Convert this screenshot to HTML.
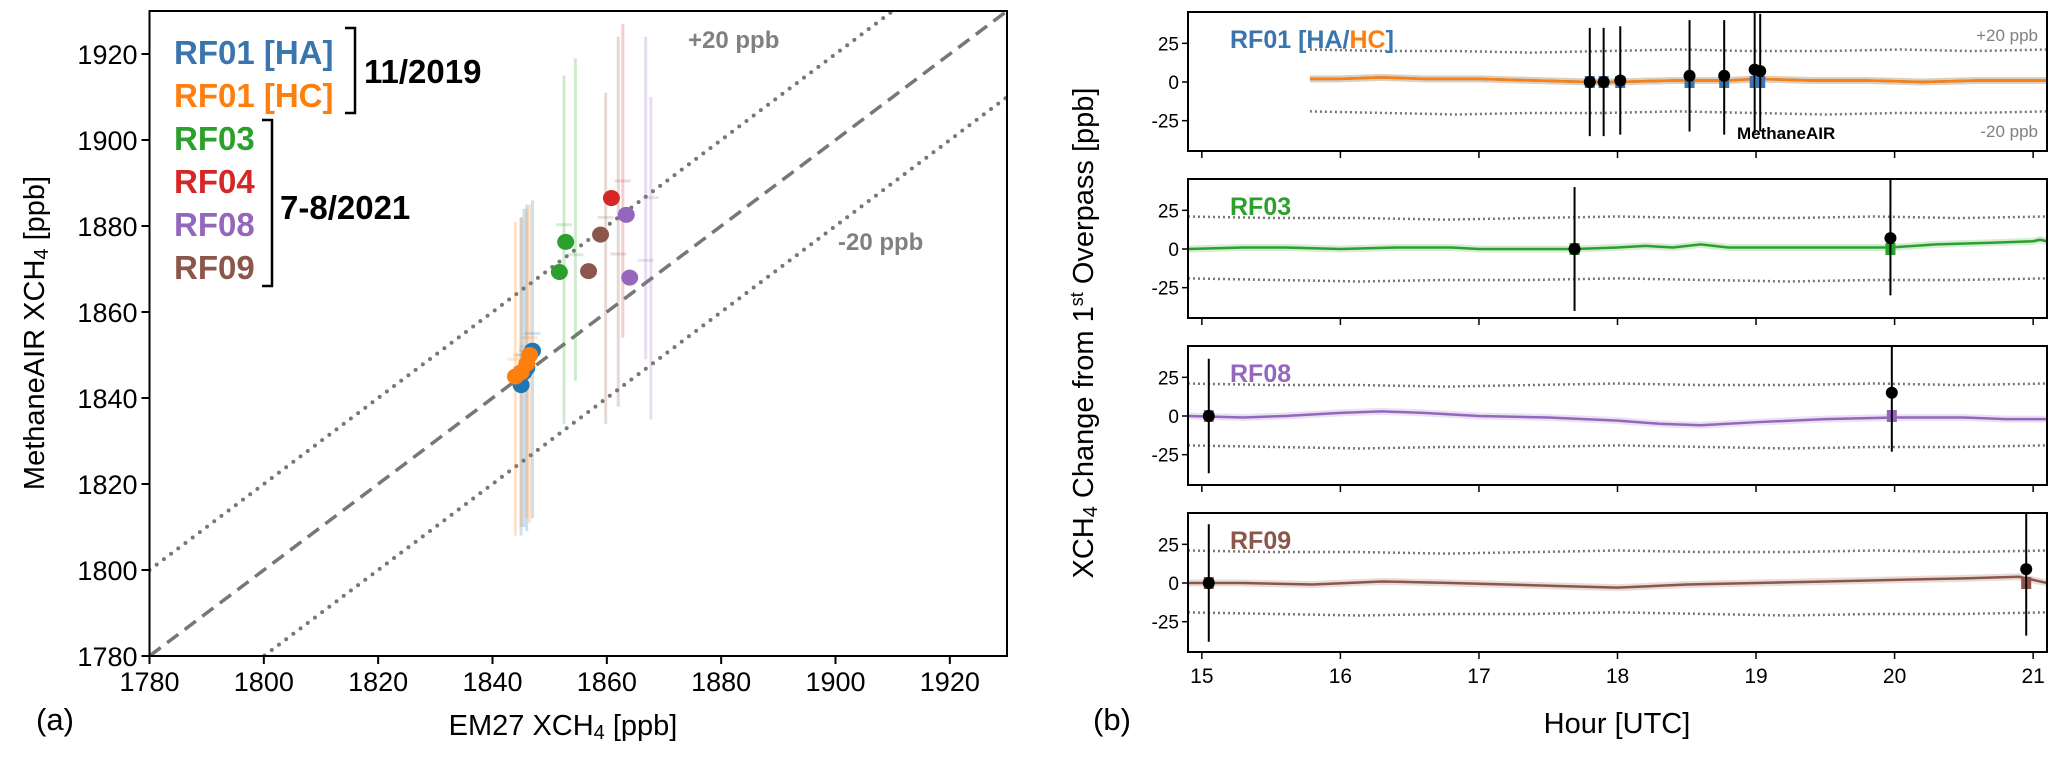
<!DOCTYPE html>
<html><head><meta charset="utf-8"><style>
html,body{margin:0;padding:0;background:#fff;}
svg{display:block;font-family:"Liberation Sans",Arial,sans-serif;}
</style></head><body>
<svg id="fig" width="2067" height="757" viewBox="0 0 2067 757"></svg>
<script>
// ---------- Panel (a) data ----------
const scatterSeries = ['RF01 [HA]','RF01 [HC]','RF03','RF04','RF08','RF09'];
const scatterColors = ['#1f77b4','#ff7f0e','#2ca02c','#d62728','#9467bd','#8c564b'];
const em27HA = [1845, 1846, 1847, 1845.5];
const airHA = [1843, 1847, 1851, 1846];
const em27HC = [1844, 1845, 1846, 1846.5];
const airHC = [1845, 1846, 1848, 1850];
const em27RF03 = [1852.8, 1851.7];
const airRF03 = [1876.3, 1869.3];
const em27RF04 = [1860.8];
const airRF04 = [1886.5];
const em27RF08 = [1863.4, 1864];
const airRF08 = [1882.6, 1868];
const em27RF09 = [1858.9, 1856.8];
const airRF09 = [1878, 1869.5];
const errLowHA = [1808, 1809, 1812, 1810];
const errHighHA = [1882, 1885, 1886, 1884];
const errLowHC = [1808, 1810, 1812, 1811];
const errHighHC = [1881, 1882, 1884, 1885];
const errLowRF03 = [1834, 1844];
const errHighRF03 = [1915, 1919];
const errLowRF04 = [1854];
const errHighRF04 = [1927];
const errLowRF08 = [1835, 1849];
const errHighRF08 = [1910, 1924];
const errLowRF09 = [1834, 1838];
const errHighRF09 = [1911, 1924];
const errX = { 'RF03':[1852.5,1854.5], 'RF04':[1862.8], 'RF08':[1867.7,1866.8], 'RF09':[1859.8,1862] };
const axTicks = [1780,1800,1820,1840,1860,1880,1900,1920];

// ---------- Panel (b) data ----------
const hourTicks = [15,16,17,18,19,20,21];
const bTicks = [25,0,-25];
const rf01Hours = [15.78,16,16.3,16.6,17,17.4,17.8,18,18.4,18.8,19,19.4,19.8,20.2,20.6,21,21.1];
const rf01HA = [2,2,3,2,2,1,0,0,1,1,2,1,1,0,1,1,1];
const rf01HC = [2,2,3,2,2,1,0,0,1,1,2,1,1,0,1,1,1];
const rf01PtsH = [17.8,17.9,18.02,18.52,18.77,18.99,19.03];
const rf01PtsV = [0,0,1,4,4,8,7];
const rf01ErrLo = [-35,-35,-34,-32,-34,-33,-32];
const rf01ErrHi = [35,35,36,40,40,45,44];
const rf03Hours = [14.9,15.3,15.6,16,16.4,16.8,17,17.3,17.7,18,18.2,18.4,18.6,18.8,19,19.5,19.97,20.3,20.7,21,21.05,21.1];
const rf03Vals = [0,1,1,0,1,1,0,0,0,1,2,1,3,1,1,1,1,3,4,5,6,5];
const rf03PtsH = [17.69,19.97];
const rf03PtsV = [0,7];
const rf03ErrLo = [-40,-30];
const rf03ErrHi = [40,46];
const rf08Hours = [14.9,15.3,15.6,16,16.3,16.6,17,17.5,18,18.3,18.6,19,19.5,20,20.5,20.8,21.1];
const rf08Vals = [0,-1,0,2,3,2,0,-1,-3,-5,-6,-4,-2,-1,-1,-2,-2];
const rf08PtsH = [15.05,19.98];
const rf08PtsV = [0,15];
const rf08ErrLo = [-37,-23];
const rf08ErrHi = [37,45];
const rf09Hours = [14.9,15.3,15.8,16.3,16.8,17.2,17.6,18,18.5,19,19.5,20,20.5,20.9,21.1];
const rf09Vals = [0,0,-1,1,0,-1,-2,-3,-1,0,1,2,3,4,0];
const rf09PtsH = [15.05,20.95];
const rf09PtsV = [0,9];
const rf09ErrLo = [-38,-34];
const rf09ErrHi = [38,45];
const bandUpper = [21,20,20,19,20,21,20,20,21,20,21];
const bandLower = [-19,-20,-21,-20,-20,-19,-20,-21,-20,-20,-19];

const NS='http://www.w3.org/2000/svg';
const svg=document.getElementById('fig');
function el(tag,attrs,parent,text){const e=document.createElementNS(NS,tag);for(const k in attrs)e.setAttribute(k,attrs[k]);if(text!==undefined)e.textContent=text;(parent||svg).appendChild(e);return e;}

// ---------- Panel (a) ----------
const AL=149.5,AT=11,AR=1007,AB=656;
const ax=v=>AL+(v-1780)*(AR-AL)/150;
const ay=v=>AB-(v-1780)*(AB-AT)/150;
const ga=el('g',{});


const clipA=el('clipPath',{id:'clipA'},ga);el('rect',{x:AL,y:AT,width:AR-AL,height:AB-AT},clipA);
const inA=el('g',{'clip-path':'url(#clipA)'},ga);
[[0,'14,8','one-to-one-line'],[20,'0,9','plus-20-line'],[-20,'0,9','minus-20-line']].forEach(([o,d,n])=>{
  const l=el('line',{x1:ax(1780),y1:ay(1780+o),x2:ax(1930),y2:ay(1930+o),stroke:'#777','stroke-width':o?4:3.5,'stroke-dasharray':d,'stroke-linecap':o?'round':'butt'},inA);
  
});
const sets=[[em27HA,airHA,errLowHA,errHighHA,0],[em27HC,airHC,errLowHC,errHighHC,1],[em27RF03,airRF03,errLowRF03,errHighRF03,2],[em27RF04,airRF04,errLowRF04,errHighRF04,3],[em27RF08,airRF08,errLowRF08,errHighRF08,4],[em27RF09,airRF09,errLowRF09,errHighRF09,5]];
sets.forEach(([xs,ys,lo,hi,ci])=>{
  const name=scatterSeries[ci];
  xs.forEach((x,i)=>{
    const ex=(errX[name]?errX[name][i]:x);
    const b=el('line',{x1:ax(ex),x2:ax(ex),y1:ay(lo[i]),y2:ay(hi[i]),stroke:scatterColors[ci],'stroke-width':3,opacity:0.22},inA);
    
    const h=el('line',{x1:ax(ex)-8,x2:ax(ex)+8,y1:ay(ys[i]+4),y2:ay(ys[i]+4),stroke:scatterColors[ci],'stroke-width':3,opacity:0.18},inA);
    
  });
});
sets.forEach(([xs,ys,lo,hi,ci])=>{
  xs.forEach((x,i)=>{
    const c=el('ellipse',{cx:ax(x),cy:ay(ys[i]),rx:8.5,ry:8,fill:scatterColors[ci]},inA);
    
    
  });
});
const fa=el('rect',{x:AL,y:AT,width:AR-AL,height:AB-AT,fill:'none',stroke:'#000','stroke-width':2},ga);

axTicks.forEach(t=>{
  el('line',{x1:ax(t),x2:ax(t),y1:AB,y2:AB+8,stroke:'#000','stroke-width':2},ga);
  const xl=el('text',{x:ax(t),y:AB+35,'text-anchor':'middle','font-size':27},ga,t);
  
  el('line',{x1:AL-8,x2:AL,y1:ay(t),y2:ay(t),stroke:'#000','stroke-width':2},ga);
  const yl=el('text',{x:AL-12,y:ay(t)+10,'text-anchor':'end','font-size':27},ga,t);
  
});
let t;
t=el('text',{x:563,y:735,'text-anchor':'middle','font-size':29},ga);t.innerHTML='EM27 XCH<tspan font-size="20" dy="4">4</tspan><tspan dy="-4"> [ppb]</tspan>';

t=el('text',{x:0,y:0,'text-anchor':'middle','font-size':29,transform:'translate(44,333) rotate(-90)'},ga);t.innerHTML='MethaneAIR XCH<tspan font-size="20" dy="4">4</tspan><tspan dy="-4"> [ppb]</tspan>';

t=el('text',{x:36,y:730,'font-size':31},ga,'(a)');
t=el('text',{x:688,y:48,'font-size':24,'font-weight':'bold',fill:'#808080'},ga,'+20 ppb');
t=el('text',{x:838,y:250,'font-size':24,'font-weight':'bold',fill:'#808080'},ga,'-20 ppb');
const legY=[52,95,138,181,224,267];
const legTxt=['RF01 [HA]','RF01 [HC]','RF03','RF04','RF08','RF09'];
const legCol=['#3a75ae','#ff7f0e','#2ca02c','#d62728','#9467bd','#8c564b'];
legTxt.forEach((s,i)=>{
  const lt=el('text',{x:174,y:legY[i]+12,'font-size':33,'font-weight':'bold',fill:legCol[i]},ga,s);
  
});
el('path',{d:'M345 28 H355 V113 H345',fill:'none',stroke:'#000','stroke-width':2.5},ga);
el('path',{d:'M262 120 H272 V286 H262',fill:'none',stroke:'#000','stroke-width':2.5},ga);
t=el('text',{x:364,y:83,'font-size':33,'font-weight':'bold'},ga,'11/2019');
t=el('text',{x:280,y:219,'font-size':33,'font-weight':'bold'},ga,'7-8/2021');

// ---------- Panel (b) ----------
const BL=1188,BR=2047,PH=139,tops=[12,179,346,513];
const hx=h=>BL+(h-14.9)*(BR-BL)/6.2;
function panel(idx,name,labelHtml,color,series,ptsH,ptsV,lo,hi,startH){
  const top=tops[idx];
  const yy=v=>top+70-v*1.547;
  const g=el('g',{});
  
  
  const cp=el('clipPath',{id:'cp'+idx},g);el('rect',{x:BL,y:top,width:BR-BL,height:PH},cp);
  const inn=el('g',{'clip-path':'url(#cp'+idx+')'},g);
  [bandUpper,bandLower].forEach((arr,k)=>{
    const pts=arr.map((v,i)=>{const h=startH+(21.1-startH)*i/(arr.length-1);return hx(h)+','+yy(v);}).join(' ');
    const b=el('polyline',{points:pts,fill:'none',stroke:'#777','stroke-width':2.5,'stroke-dasharray':'2,3'},inn);
    
  });
  series.forEach(([hs,vs,c])=>{
    const pts=hs.map((h,i)=>hx(h)+','+yy(vs[i])).join(' ');
    el('polyline',{points:pts,fill:'none',stroke:c,'stroke-width':7,opacity:0.2},inn);
    const l=el('polyline',{points:pts,fill:'none',stroke:c,'stroke-width':2.5},inn);
    
  });
  ptsH.forEach((h,i)=>{
    el('rect',{x:hx(h)-5,y:yy(0)-6,width:10,height:12,fill:color},inn);
    const e=el('line',{x1:hx(h),x2:hx(h),y1:yy(lo[i]),y2:yy(hi[i]),stroke:'#000','stroke-width':2},inn);
    
    const c=el('circle',{cx:hx(h),cy:yy(ptsV[i]),r:6,fill:'#000'},inn);
    
  });
  const f=el('rect',{x:BL,y:top,width:BR-BL,height:PH,fill:'none',stroke:'#000','stroke-width':2},g);
  
  bTicks.forEach(v=>{
    el('line',{x1:BL-6,x2:BL,y1:yy(v),y2:yy(v),stroke:'#000','stroke-width':1.5},g);
    const l=el('text',{x:BL-9,y:yy(v)+7,'text-anchor':'end','font-size':19},g,v);
    
  });
  hourTicks.forEach(h=>{
    el('line',{x1:hx(h),x2:hx(h),y1:top+PH,y2:top+PH+7,stroke:'#000','stroke-width':1.5},g);
    if(idx===3){const l=el('text',{x:hx(h),y:top+PH+31,'text-anchor':'middle','font-size':21},g,h);
      }
  });
  const lb=el('text',{x:1230,y:top+36,'font-size':25,'font-weight':'bold',fill:color},g);lb.innerHTML=labelHtml;
  
  return g;
}
const g1=panel(0,'rf01-panel','RF01 [HA/<tspan fill="#ff7f0e">HC</tspan>]','#3a75ae',[[rf01Hours,rf01HA,'#1f77b4'],[rf01Hours,rf01HC,'#ff7f0e']],rf01PtsH,rf01PtsV,rf01ErrLo,rf01ErrHi,15.78);
t=el('text',{x:2038,y:41,'text-anchor':'end','font-size':17,fill:'#808080'},g1,'+20 ppb');
t=el('text',{x:2038,y:137,'text-anchor':'end','font-size':17,fill:'#808080'},g1,'-20 ppb');
t=el('text',{x:1737,y:139,'font-size':17,'font-weight':'bold'},g1,'MethaneAIR');
panel(1,'rf03-panel','RF03','#2ca02c',[[rf03Hours,rf03Vals,'#2ca02c']],rf03PtsH,rf03PtsV,rf03ErrLo,rf03ErrHi,14.9);
panel(2,'rf08-panel','RF08','#9467bd',[[rf08Hours,rf08Vals,'#9467bd']],rf08PtsH,rf08PtsV,rf08ErrLo,rf08ErrHi,14.9);
panel(3,'rf09-panel','RF09','#8c564b',[[rf09Hours,rf09Vals,'#8c564b']],rf09PtsH,rf09PtsV,rf09ErrLo,rf09ErrHi,14.9);
t=el('text',{x:1617,y:733,'text-anchor':'middle','font-size':29});t.textContent='Hour [UTC]';

t=el('text',{x:1093,y:730,'font-size':31});t.textContent='(b)';

t=el('text',{x:0,y:0,'text-anchor':'middle','font-size':29,transform:'translate(1093,333) rotate(-90)'});
t.innerHTML='XCH<tspan font-size="20" dy="4">4</tspan><tspan dy="-4"> Change from 1</tspan><tspan font-size="18" dy="-10">st</tspan><tspan dy="10"> Overpass [ppb]</tspan>';

</script>
</body></html>
